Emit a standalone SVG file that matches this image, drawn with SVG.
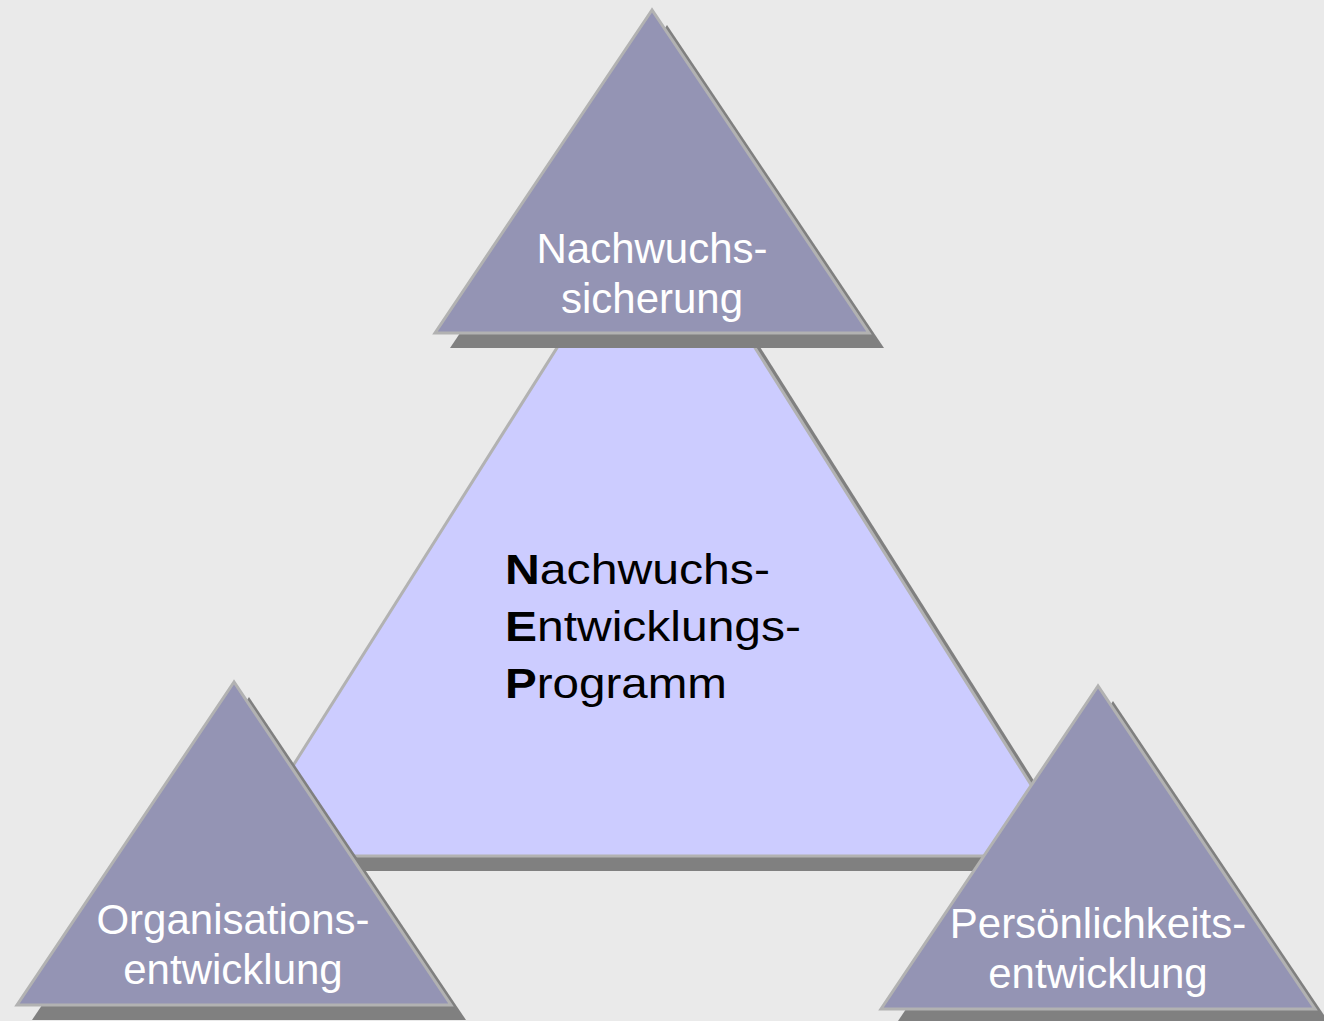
<svg xmlns="http://www.w3.org/2000/svg" width="1324" height="1021" viewBox="0 0 1324 1021">
  <style>
    .shadow { fill: #808080; stroke: none; }
    .core { fill: #ccccff; stroke: #b2b2b2; stroke-width: 3; stroke-linejoin: miter; }
    .pillar { fill: #9494b4; stroke: #b2b2b2; stroke-width: 3; stroke-linejoin: miter; }
    .label { font-family: "Liberation Sans", Arial, sans-serif; font-size: 42px; fill: #ffffff; text-anchor: middle; }
    .core-label { font-family: "Liberation Sans", Arial, sans-serif; font-size: 43px; fill: #000000; }
    .core-label .initial { font-weight: bold; }
  </style>
  <defs>
    <!-- small pillar triangle, apex at origin -->
    <polygon id="pillar-shape" points="0,0 -217,323 217,323"/>
  </defs>

  <rect x="0" y="0" width="1324" height="1021" fill="#eaeaea"/>

  <!-- central triangle -->
  <g id="nep-program">
    <polygon class="shadow" points="671,206 251,871 1091,871"/>
    <polygon class="core" points="656,191 236,856 1076,856"/>
    <text class="core-label">
      <tspan x="505" y="584" textLength="265" lengthAdjust="spacingAndGlyphs"><tspan class="initial">N</tspan>achwuchs-</tspan>
      <tspan x="505" y="641" textLength="296" lengthAdjust="spacingAndGlyphs"><tspan class="initial">E</tspan>ntwicklungs-</tspan>
      <tspan x="505" y="698" textLength="222" lengthAdjust="spacingAndGlyphs"><tspan class="initial">P</tspan>rogramm</tspan>
    </text>
  </g>

  <!-- top pillar -->
  <g id="nachwuchssicherung">
    <use href="#pillar-shape" class="shadow" transform="translate(667,25)"/>
    <use href="#pillar-shape" class="pillar" transform="translate(652,10)"/>
    <text class="label" x="652" y="263">Nachwuchs-</text>
    <text class="label" x="652" y="313">sicherung</text>
  </g>

  <!-- lower left pillar -->
  <g id="organisationsentwicklung">
    <use href="#pillar-shape" class="shadow" transform="translate(249,697)"/>
    <use href="#pillar-shape" class="pillar" transform="translate(234,682)"/>
    <text class="label" x="233" y="934">Organisations-</text>
    <text class="label" x="233" y="984">entwicklung</text>
  </g>

  <!-- lower right pillar -->
  <g id="persoenlichkeitsentwicklung">
    <use href="#pillar-shape" class="shadow" transform="translate(1113,701)"/>
    <use href="#pillar-shape" class="pillar" transform="translate(1098,686)"/>
    <text class="label" x="1098" y="938">Persönlichkeits-</text>
    <text class="label" x="1098" y="988">entwicklung</text>
  </g>

  <!-- no connectors in this figure -->
  <g id="connectors"/>
</svg>
